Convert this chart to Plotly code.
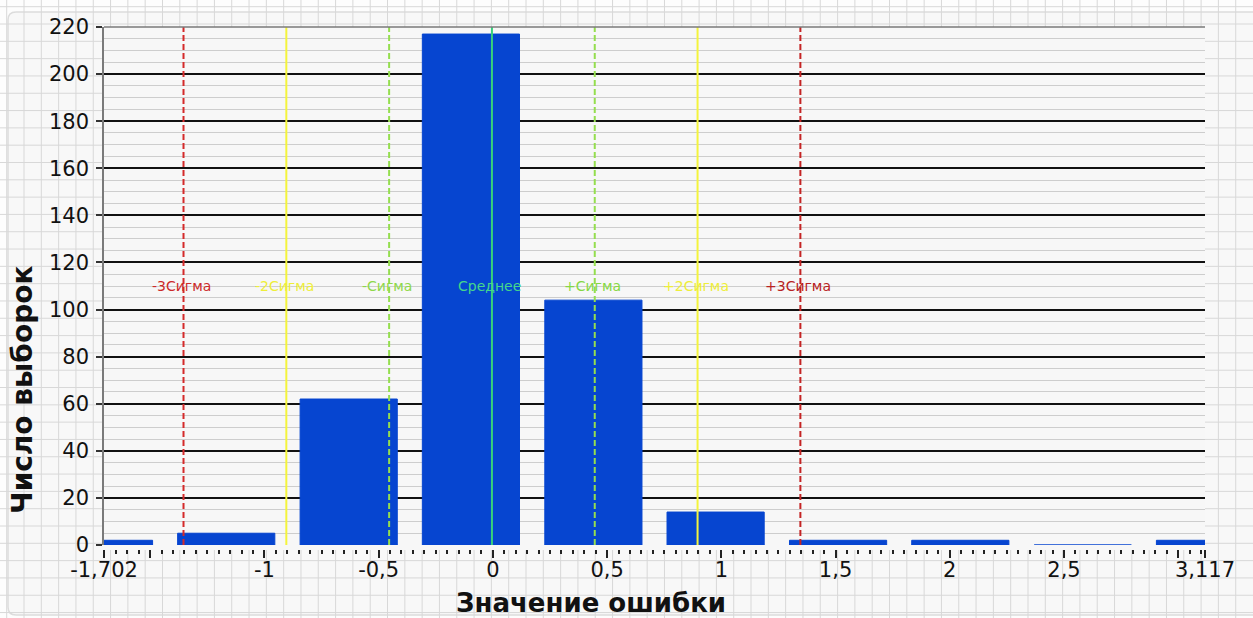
import plotly.graph_objects as go

# Histogram of the error values
bin_centers = [-1.702, -1.167, -0.631, -0.096, 0.440, 0.975, 1.511, 2.046, 2.582, 3.117]
counts = [2, 5, 62, 217, 104, 14, 2, 2, 0, 2]

# Mean and sigma marker lines
marker_names = ["-3Сигма", "-2Сигма", "-Сигма", "Среднее", "+Сигма", "+2Сигма", "+3Сигма"]
marker_x = [-1.354, -0.904, -0.454, -0.004, 0.446, 0.896, 1.346]
marker_label_y = 110

# Axis ticks
x_tickvals = [-1.702, -1.5, -1, -0.5, 0, 0.5, 1, 1.5, 2, 2.5, 3, 3.117]
x_ticktext = ["-1,702", "", "-1", "-0,5", "0", "0,5", "1", "1,5", "2", "2,5", "", "3,117"]
y_tickvals = [0, 20, 40, 60, 80, 100, 120, 140, 160, 180, 200, 220]

W, H = 1253, 618
L, R, T, B = 104, 48, 27, 73
PW, PH = W - L - R, H - T - B

FONT = "DejaVu Sans"
PLOT_BG = "#f7f7f7"
BAR_BLUE = "#0645d0"

line_styles = [
    dict(color="#d42a2a", width=2, dash="6px,3px"),
    dict(color="#f4f43c", width=2),
    dict(color="#94de4e", width=2, dash="6px,3px"),
    dict(color="#38d27c", width=2),
    dict(color="#94de4e", width=2, dash="6px,3px"),
    dict(color="#f4f43c", width=2),
    dict(color="#c42424", width=2, dash="6px,3px"),
]
label_colors = ["#cc2a2a", "#eeee3a", "#8fd84a", "#45d68c", "#86d844", "#eeee3a", "#b82222"]


def px(xp):
    return (xp - L) / PW


def py(yp):
    return (H - B - yp) / PH


fig = go.Figure()

fig.add_trace(go.Bar(
    x=bin_centers,
    y=counts,
    marker=dict(color=BAR_BLUE, line=dict(color=BAR_BLUE, width=1)),
    hoverinfo="x+y",
))

shapes = []

# rounded panel behind the chart
x0, y0, x1, y1 = 8, 12, 1262, 615
r = 8
rx, ry = r / PW, r / PH
panel_path = (
    f"M {px(x0) + rx},{py(y0)} L {px(x1) - rx},{py(y0)} "
    f"Q {px(x1)},{py(y0)} {px(x1)},{py(y0) - ry} "
    f"L {px(x1)},{py(y1) + ry} Q {px(x1)},{py(y1)} {px(x1) - rx},{py(y1)} "
    f"L {px(x0) + rx},{py(y1)} Q {px(x0)},{py(y1)} {px(x0)},{py(y1) + ry} "
    f"L {px(x0)},{py(y0) - ry} Q {px(x0)},{py(y0)} {px(x0) + rx},{py(y0)} Z"
)
shapes.append(dict(type="path", xref="paper", yref="paper", path=panel_path,
                   fillcolor="#f8f8f8", line=dict(color="#dcdcdc", width=1.5),
                   layer="below"))

# graph-paper background
step = 17.31
k = 0
while 6.7 + k * step < W:
    xv = 6.7 + k * step
    shapes.append(dict(type="line", xref="paper", yref="paper",
                       x0=px(xv), x1=px(xv), y0=py(H), y1=py(0),
                       line=dict(color="#d8d8d8", width=1), layer="below"))
    k += 1
k = 0
while 6.7 + k * step < H:
    yv = 6.7 + k * step
    shapes.append(dict(type="line", xref="paper", yref="paper",
                       x0=px(0), x1=px(W), y0=py(yv), y1=py(yv),
                       line=dict(color="#d8d8d8", width=1), layer="below"))
    k += 1

# opaque plotting area
shapes.append(dict(type="rect", xref="paper", yref="paper", x0=0, x1=1, y0=0, y1=1,
                   fillcolor=PLOT_BG, line=dict(width=0), layer="below"))

# mean / sigma lines
for xv, st in zip(marker_x, line_styles):
    shapes.append(dict(type="line", xref="x", yref="paper", x0=xv, x1=xv, y0=0, y1=1,
                       line=st, layer="above"))

# top border of the plotting area
shapes.append(dict(type="line", xref="paper", yref="paper", x0=0, x1=1, y0=1, y1=1,
                   line=dict(color="#7a7a7a", width=1.5), layer="above"))

annotations = []
for name, xv, col in zip(marker_names, marker_x, label_colors):
    annotations.append(dict(x=xv, y=marker_label_y, xref="x", yref="y", text=name,
                            showarrow=False, xanchor="center", yanchor="middle",
                            xshift=-2, font=dict(family=FONT, size=14, color=col)))

annotations.append(dict(x=px(591), y=py(603), xref="paper", yref="paper",
                        text="<b>Значение ошибки</b>", showarrow=False,
                        xanchor="center", yanchor="middle",
                        font=dict(family=FONT, size=26, color="#111111")))
annotations.append(dict(x=px(22), y=py(390), xref="paper", yref="paper",
                        text="<b>Число выборок</b>", showarrow=False, textangle=-90,
                        xanchor="center", yanchor="middle",
                        font=dict(family=FONT, size=28, color="#111111")))

fig.update_layout(
    width=W, height=H, autosize=False,
    margin=dict(l=L, r=R, t=T, b=B, pad=0),
    paper_bgcolor="#fdfdfd",
    plot_bgcolor=PLOT_BG,
    showlegend=False,
    bargap=0.205,
    shapes=shapes,
    annotations=annotations,
    font=dict(family=FONT, color="#111111"),
)

fig.update_xaxes(
    range=[-1.702, 3.117],
    tickmode="array", tickvals=x_tickvals, ticktext=x_ticktext,
    ticks="outside", ticklen=8, tickwidth=1.5, tickcolor="#222222",
    tickfont=dict(family=FONT, size=21, color="#111111"),
    ticklabelstandoff=-6,
    showgrid=False, zeroline=False,
    showline=True, linecolor=PLOT_BG, linewidth=5, layer="below traces",
    minor=dict(tickmode="linear", tick0=0, dtick=0.05, ticks="outside",
               ticklen=4, tickwidth=1.5, tickcolor="#222222", showgrid=False),
)

fig.update_yaxes(
    range=[0, 220],
    tickmode="array", tickvals=y_tickvals,
    ticks="outside", ticklen=6, tickwidth=1.5, tickcolor="#333333",
    tickfont=dict(family=FONT, size=21, color="#111111"),
    ticklabelstandoff=3,
    showgrid=True, gridcolor="#111111", gridwidth=1.5,
    zeroline=False,
    showline=True, linecolor="#7a7a7a", linewidth=1.5,
    minor=dict(tickmode="linear", tick0=0, dtick=5, showgrid=True,
               gridcolor="#cdcdcd", gridwidth=1, ticks=""),
)

fig.write_html("out.html")
